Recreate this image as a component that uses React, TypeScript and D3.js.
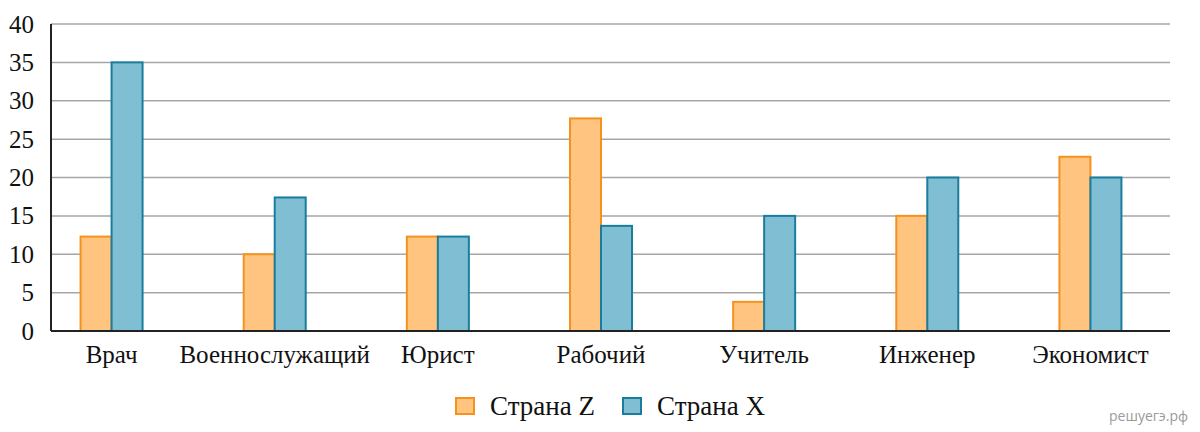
import { useEffect, useRef } from 'react';
import * as d3 from 'd3';

const categories = ['Врач', 'Военнослужащий', 'Юрист', 'Рабочий', 'Учитель', 'Инженер', 'Экономист'];
const countryZ = [12.3, 10, 12.3, 27.7, 3.8, 15, 22.7];
const countryX = [35, 17.4, 12.3, 13.7, 15, 20, 20];
const yTicks = [0, 5, 10, 15, 20, 25, 30, 35, 40];
const seriesNames = ['Страна Z', 'Страна X'];

const App = () => {
    const ref = useRef(null);

    useEffect(() => {
        const svg = d3.select(ref.current);
        svg.selectAll('*').remove();

        const width = 1200;
        const height = 432;
        const axisX = 51;
        const right = 1170;
        const top = 24;
        const bottom = 331;

        const x = d3.scaleBand().domain(categories).range([30, 1172]);
        const sub = d3.scaleBand().domain(seriesNames).range([-31, 31]);
        const y = d3.scaleLinear().domain([0, 40]).range([bottom, top]);

        const fills = ['#FFC580', '#7FBED3'];
        const strokes = ['#F5921E', '#1A7D9E'];
        const serif = 'Liberation Serif, Times New Roman, serif';

        svg.attr('viewBox', [0, 0, width, height]);

        // grid lines
        svg.append('g')
            .selectAll('line')
            .data(yTicks.filter(d => d > 0))
            .join('line')
            .attr('x1', axisX)
            .attr('x2', right)
            .attr('y1', d => y(d))
            .attr('y2', d => y(d))
            .attr('stroke', '#a6a6a6')
            .attr('stroke-width', 1.5);

        // tick labels
        svg.append('g')
            .selectAll('text')
            .data(yTicks)
            .join('text')
            .attr('x', 34)
            .attr('y', d => y(d))
            .attr('dy', '0.34em')
            .attr('text-anchor', 'end')
            .attr('font-family', serif)
            .attr('font-size', 25)
            .attr('fill', '#111')
            .text(d => d);

        // bars
        const series = [countryZ, countryX];
        series.forEach((vals, si) => {
            svg.append('g')
                .selectAll('rect')
                .data(vals)
                .join('rect')
                .attr('x', (d, i) => x(categories[i]) + x.bandwidth() / 2 + sub(seriesNames[si]))
                .attr('y', d => y(d))
                .attr('width', sub.bandwidth())
                .attr('height', d => bottom - y(d))
                .attr('fill', fills[si])
                .attr('stroke', strokes[si])
                .attr('stroke-width', 2);
        });

        // axes
        svg.append('line')
            .attr('x1', axisX).attr('x2', axisX)
            .attr('y1', top).attr('y2', bottom)
            .attr('stroke', '#222').attr('stroke-width', 2);
        svg.append('line')
            .attr('x1', axisX).attr('x2', right)
            .attr('y1', bottom).attr('y2', bottom)
            .attr('stroke', '#222').attr('stroke-width', 2);

        // category labels
        svg.append('g')
            .selectAll('text')
            .data(categories)
            .join('text')
            .attr('x', d => x(d) + x.bandwidth() / 2)
            .attr('y', 363)
            .attr('text-anchor', 'middle')
            .attr('font-family', serif)
            .attr('font-size', 25)
            .attr('fill', '#111')
            .text(d => d);

        // legend
        const legendX = [455, 622];
        const legend = svg.append('g')
            .selectAll('g')
            .data(seriesNames)
            .join('g')
            .attr('transform', (d, i) => `translate(${legendX[i]},397)`);
        legend.append('rect')
            .attr('x', 1).attr('y', 1)
            .attr('width', 18).attr('height', 16)
            .attr('fill', (d, i) => fills[i])
            .attr('stroke', (d, i) => strokes[i])
            .attr('stroke-width', 2);
        legend.append('text')
            .attr('x', 35)
            .attr('y', 18)
            .attr('font-family', serif)
            .attr('font-size', 27)
            .attr('fill', '#111')
            .text(d => d);

        svg.append('text')
            .attr('x', 1188)
            .attr('y', 421)
            .attr('text-anchor', 'end')
            .attr('font-family', 'Open Sans, sans-serif')
            .attr('font-size', 14)
            .attr('fill', '#9a9a9a')
            .text('решуегэ.рф');
    }, []);

    return (
        <svg ref={ref} width={1200} height={432} style={{ position: 'absolute', left: 0, top: 0 }} />
    );
};

export default App;
